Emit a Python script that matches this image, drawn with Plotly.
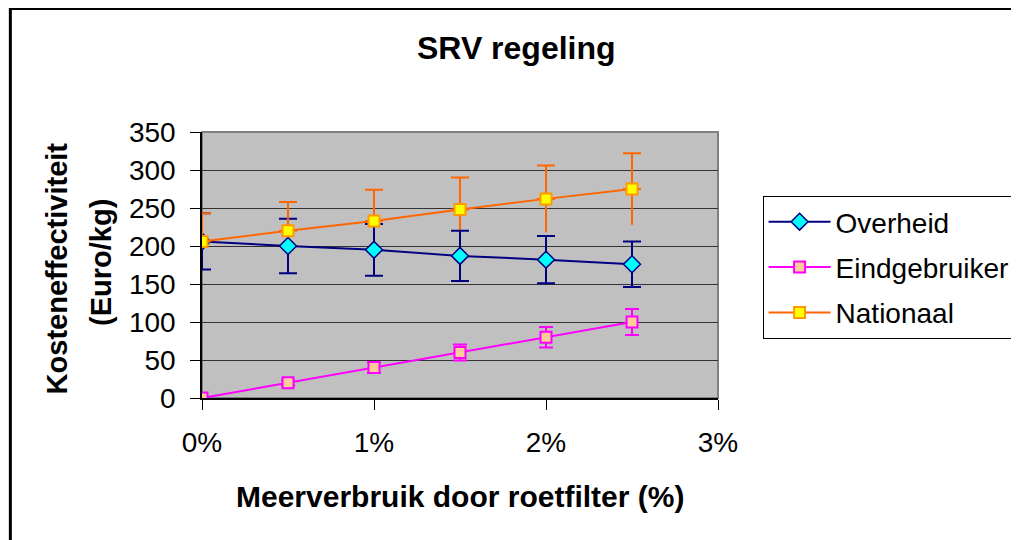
import plotly.graph_objects as go

# ---- data ----
x_vals = [0.0, 0.005, 0.01, 0.015, 0.02, 0.025]
overheid = [206, 200, 195, 187, 182, 176]
overheid_err = [37, 36, 34, 33, 31, 30]
eindgebruiker = [0, 20, 40, 60, 80, 100]
eindgebruiker_err = [0, 3.5, 7, 10.5, 13.5, 17]
nationaal = [206, 220, 233, 248, 262, 275]
nationaal_err = [37, 38, 41, 42, 44, 47]
y_ticks = [0, 50, 100, 150, 200, 250, 300, 350]
x_ticks = [0.0, 0.01, 0.02, 0.03]
x_ticklabels = ["0%", "1%", "2%", "3%"]

FONT = "Arial, Liberation Sans, sans-serif"

# figure coords (page body has an 8px margin)
W, H = 1019, 540
PL, PR, PT, PB = 194, 715, 124, 390
PW, PH = PR - PL, PB - PT


def px(x):
    return (x - PL) / PW


def py(y):
    return (PB - y) / PH


fig = go.Figure()

# Nationaal minus-side error bars (no caps)
fig.add_trace(go.Scatter(
    x=x_vals, y=nationaal, mode="markers", showlegend=False, hoverinfo="skip",
    marker=dict(size=1, color="rgba(0,0,0,0)"),
    error_y=dict(type="data", symmetric=False, array=[0]*len(nationaal),
                 arrayminus=nationaal_err, color="#FF6600", thickness=2, width=0),
))

fig.add_trace(go.Scatter(
    x=x_vals, y=overheid, name="Overheid", mode="lines+markers",
    line=dict(color="#000080", width=2),
    marker=dict(symbol="diamond", size=13, color="#00FFFF",
                line=dict(color="#000080", width=1.5)),
    error_y=dict(type="data", array=overheid_err, color="#000080", thickness=2, width=9),
    legendgroup="a",
))
fig.add_trace(go.Scatter(
    x=x_vals, y=eindgebruiker, name="Eindgebruiker", mode="lines+markers",
    line=dict(color="#FF00FF", width=2),
    marker=dict(symbol="square", size=11, color="#FFCC99",
                line=dict(color="#FF00FF", width=2)),
    error_y=dict(type="data", array=eindgebruiker_err, color="#FF00FF", thickness=2, width=7),
    legendgroup="b",
))
fig.add_trace(go.Scatter(
    x=x_vals, y=nationaal, name="Nationaal", mode="lines+markers",
    line=dict(color="#FF6600", width=2),
    marker=dict(symbol="square", size=11, color="#FFFF00",
                line=dict(color="#FF9900", width=2)),
    error_y=dict(type="data", symmetric=False, array=nationaal_err,
                 arrayminus=[0]*len(nationaal), color="#FF6600", thickness=2, width=9),
    legendgroup="c",
))

fig.update_layout(
    width=W, height=H,
    margin=dict(l=PL, r=W - PR, t=PT, b=H - PB),
    paper_bgcolor="white", plot_bgcolor="#C0C0C0",
    font=dict(family=FONT, color="black"),
    showlegend=True,
    legend=dict(x=px(760), y=py(188), xanchor="left", yanchor="top",
                bordercolor="black", borderwidth=1, bgcolor="white",
                font=dict(size=28, family=FONT, color="black"),
                itemwidth=62, tracegroupgap=6, traceorder="grouped"),
    xaxis=dict(range=[0, 0.03], tickvals=x_ticks, ticktext=x_ticklabels,
               showgrid=False, zeroline=False, showline=True, linecolor="black", linewidth=1.5,
               ticks="outside", ticklen=10, tickcolor="black", tickwidth=1,
               tickfont=dict(size=28, family=FONT, color="black"), ticklabelstandoff=9),
    yaxis=dict(range=[0, 350], tickvals=y_ticks,
               showgrid=True, gridcolor="#333333", gridwidth=1, zeroline=False,
               showline=True, linecolor="black", linewidth=1.5,
               ticks="outside", ticklen=10, tickcolor="black", tickwidth=1,
               tickfont=dict(size=28, family=FONT, color="black"), ticklabelstandoff=9),
    shapes=[
        dict(type="rect", xref="paper", yref="paper", x0=0, x1=1, y0=0, y1=1,
             line=dict(color="#808080", width=2), layer="below"),
        dict(type="rect", xref="paper", yref="paper", x0=px(0.5), x1=px(W + 20),
             y0=py(H + 20), y1=py(0.5),
             line=dict(color="black", width=3)),
    ],
    annotations=[
        dict(text="<b>SRV regeling</b>", xref="paper", yref="paper",
             x=px(512), y=py(40), xanchor="center", yanchor="middle",
             showarrow=False, font=dict(size=32, family=FONT, color="black")),
        dict(text="<b>Meerverbruik door roetfilter (%)</b>", xref="paper", yref="paper",
             x=0.5, y=py(488), xanchor="center", yanchor="middle",
             showarrow=False, font=dict(size=30, family=FONT, color="black")),
        dict(text="<b>Kosteneffectiviteit</b>", xref="paper", yref="paper",
             x=px(48), y=py(260), xanchor="center", yanchor="middle",
             textangle=-90, showarrow=False, font=dict(size=29, family=FONT, color="black")),
        dict(text="<b>(Euro/kg)</b>", xref="paper", yref="paper",
             x=px(92), y=py(254), xanchor="center", yanchor="middle",
             textangle=-90, showarrow=False, font=dict(size=29, family=FONT, color="black")),
    ],
)

fig.write_html("out.html")
